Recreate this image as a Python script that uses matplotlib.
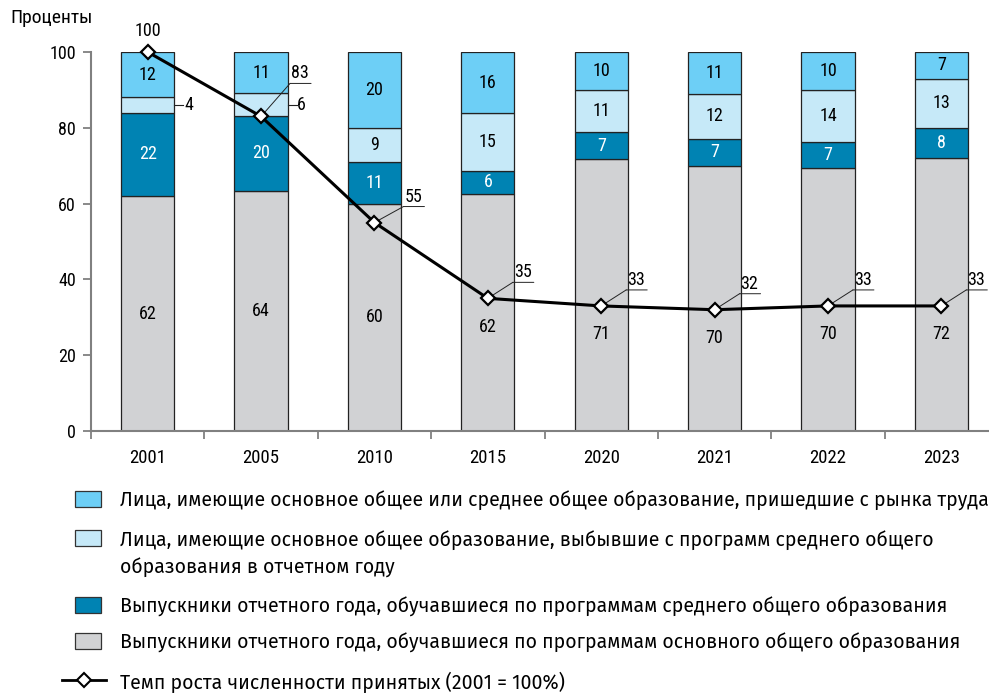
import numpy as np
import matplotlib
matplotlib.use("Agg")
import matplotlib.pyplot as plt
from matplotlib.patches import Rectangle
from matplotlib.lines import Line2D
from matplotlib.transforms import offset_copy

plt.rcParams['font.family'] = ['Roboto Condensed', 'DejaVu Sans']
LEG_FONT = ['Fira Sans', 'DejaVu Sans']

# --- данные ---
years = ['2001', '2005', '2010', '2015', '2020', '2021', '2022', '2023']
grad_basic = [62, 64, 60, 62, 71, 70, 70, 72]       # выпускники, основное общее
grad_secondary = [22, 20, 11, 6, 7, 7, 7, 8]        # выпускники, среднее общее
dropouts = [4, 6, 9, 15, 11, 12, 14, 13]            # выбывшие с программ СОО
from_labour = [12, 11, 20, 16, 10, 11, 10, 7]       # пришедшие с рынка труда
growth = [100, 83, 55, 35, 33, 32, 33, 33]          # темп роста, 2001 = 100%

series_labels = [
    'Лица, имеющие основное общее или среднее общее образование, пришедшие с рынка труда',
    'Лица, имеющие основное общее образование, выбывшие с программ среднего общего\nобразования в отчетном году',
    'Выпускники отчетного года, обучавшиеся по программам среднего общего образования',
    'Выпускники отчетного года, обучавшиеся по программам основного общего образования',
]
line_label = 'Темп роста численности принятых (2001 = 100%)'

C_TOP = '#6dcff6'
C_LIGHT = '#c6e9f8'
C_DARK = '#0083b3'
C_GRAY = '#d1d2d4'

W, H = 989, 693
fig = plt.figure(figsize=(W / 100, H / 100), dpi=100)
ax = fig.add_axes([91 / W, 1 - 431 / H, 907 / W, 379 / H])

x = np.arange(len(years))
raw = np.array([grad_basic, grad_secondary, dropouts, from_labour], dtype=float)
shares = raw / raw.sum(axis=0) * 100   # подгоняем сумму к 100
colors = [C_GRAY, C_DARK, C_LIGHT, C_TOP]
bw = 0.47
FS = 13

bottom = np.zeros(len(years))
for k in range(4):
    ax.bar(x, shares[k], bw, bottom=bottom, color=colors[k],
           edgecolor='#222222', linewidth=0.9, zorder=2)
    bottom += shares[k]

# подписи внутри столбцов
for i in range(len(years)):
    b0 = shares[0, i]
    b1 = b0 + shares[1, i]
    b2 = b1 + shares[2, i]
    y_gray = min(b0 / 2, growth[i] - 7.5) if growth[i] < b0 else b0 / 2
    ax.text(i, y_gray, str(grad_basic[i]), ha='center', va='center', fontsize=FS, zorder=5)
    ax.text(i, (b0 + b1) / 2, str(grad_secondary[i]), ha='center', va='center',
            fontsize=FS, color='white', zorder=5)
    if dropouts[i] >= 9:
        ax.text(i, (b1 + b2) / 2, str(dropouts[i]), ha='center', va='center', fontsize=FS, zorder=5)
    else:
        ym = (b1 + b2) / 2
        ax.plot([i + bw / 2, i + bw / 2 + 0.08], [ym, ym], color='#222222', lw=0.8,
                clip_on=False, zorder=5)
        ax.text(i + bw / 2 + 0.085, ym, str(dropouts[i]), ha='left', va='center',
                fontsize=FS, zorder=5)
    ax.text(i, (b2 + 100) / 2, str(from_labour[i]), ha='center', va='center', fontsize=FS, zorder=5)

# линия темпа роста
ax.plot(x, growth, color='black', lw=2.2, marker='D', ms=7.5, mfc='white', mec='black',
        mew=1.6, clip_on=False, zorder=7)

# выноски к значениям линии
offsets = [None, (29, 33), (29, 16), (25, 16), (25, 16), (25, 16), (25, 16), (25, 16)]
for i, v in enumerate(growth):
    if offsets[i] is None:
        ax.annotate(str(v), (i, v), xytext=(0, 12), textcoords='offset pixels',
                    ha='center', va='bottom', fontsize=FS, zorder=8, annotation_clip=False)
        continue
    dx, dy = offsets[i]
    ax.annotate('', (i, v), xytext=(dx, dy), textcoords='offset pixels', annotation_clip=False,
                arrowprops=dict(arrowstyle='-', lw=0.7, color='#222222', shrinkA=0, shrinkB=0),
                zorder=6)
    base = offset_copy(ax.transData, fig=fig, x=dx, y=dy, units='dots')
    ax.annotate('', (i, v), xycoords=base, xytext=(21, 0), textcoords='offset pixels',
                annotation_clip=False,
                arrowprops=dict(arrowstyle='-', lw=0.7, color='#222222', shrinkA=0, shrinkB=0))
    ax.annotate(str(v), (i, v), xytext=(dx + 1, dy + 1), textcoords='offset pixels',
                ha='left', va='bottom', fontsize=FS, zorder=8, annotation_clip=False)

# оси
ax.set_xlim(-0.5, len(years) - 0.5)
ax.set_ylim(0, 100)
ax.set_yticks([0, 20, 40, 60, 80, 100])
ax.set_xticks(x)
ax.set_xticklabels(years)
ax.set_xticks(np.arange(-0.5, len(years)), minor=True)
ax.tick_params(axis='x', which='major', length=0, pad=13, labelsize=13.5)
ax.tick_params(axis='x', which='minor', length=6, width=1.3, color='#808080')
ax.tick_params(axis='y', length=6, width=1.3, color='#808080', labelsize=FS, pad=5)
for s in ['top', 'right']:
    ax.spines[s].set_visible(False)
for s in ['left', 'bottom']:
    ax.spines[s].set_color('#808080')
    ax.spines[s].set_linewidth(1.5)

fig.text(10 / W, 1 - 18 / H, 'Проценты', ha='left', va='center', fontsize=14)

# легенда вручную
def fx(px):
    return px / W

def fy(py):
    return 1 - py / H

rows = [499, 538, 605, 641]
leg_colors = [C_TOP, C_LIGHT, C_DARK, C_GRAY]
for yy, col, lab in zip(rows, leg_colors, series_labels):
    fig.add_artist(Rectangle((fx(75), fy(yy + 8)), 26 / W, 16 / H, facecolor=col,
                             edgecolor='#333333', lw=0.9, transform=fig.transFigure))
    for j, part in enumerate(lab.split('\n')):
        fig.text(fx(120), fy(yy + 28 * j), part, ha='left', va='center_baseline',
                 fontsize=14, family=LEG_FONT)

fig.add_artist(Line2D([fx(62), fx(106)], [fy(680), fy(680)], color='black', lw=2,
                      transform=fig.transFigure))
fig.add_artist(Line2D([fx(84)], [fy(680)], marker='D', ms=7, mfc='white', mec='black',
                      mew=1.5, transform=fig.transFigure))
fig.text(fx(120), fy(680), line_label, ha='left', va='center_baseline', fontsize=14,
         family=LEG_FONT)

fig.savefig('out.png', dpi=100)
